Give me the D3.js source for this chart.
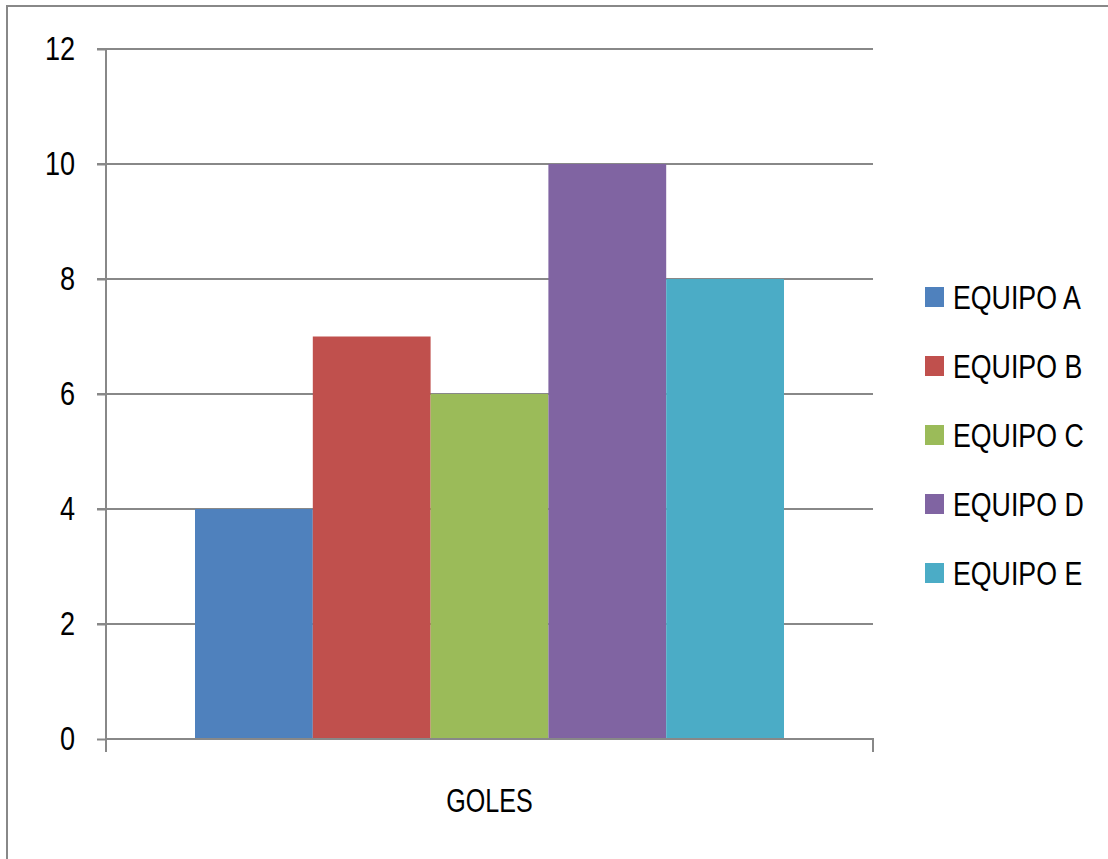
<!DOCTYPE html>
<html>
<head>
<meta charset="utf-8">
<script src="https://cdn.jsdelivr.net/npm/d3@7"></script>
<style>
  body { margin: 0; background: #fff; }
  text { font-family: "Liberation Sans Narrow", "Liberation Sans", Arial, sans-serif; fill: #000; }
</style>
</head>
<body>
<div id="chart"></div>
<script>
var categories = ["GOLES"];
var teams = ["EQUIPO A", "EQUIPO B", "EQUIPO C", "EQUIPO D", "EQUIPO E"];
var goals = [4, 7, 6, 10, 8];
var colors = ["#4f81bd", "#c0504d", "#9bbb59", "#8064a2", "#4bacc6"];
var yTicks = [0, 2, 4, 6, 8, 10, 12];

// the original uses a narrow font, squeeze the wide fallback horizontally
var squeeze = function(sel, k){
  sel.each(function(){
    var w = this.getComputedTextLength();
    d3.select(this).attr("textLength", w * k).attr("lengthAdjust", "spacingAndGlyphs");
  });
};

var svg = d3.select("#chart").append("svg").attr("width", 1108).attr("height", 859);

// outer frame, runs off the right and bottom edges
svg.append("rect").attr("x", 7).attr("y", 6).attr("width", 1120).attr("height", 880)
  .attr("fill", "none").attr("stroke", "#888").attr("stroke-width", 2);

var x = d3.scaleBand().domain(categories).range([106, 873]);
var inner = d3.scaleBand().domain(teams).range([x("GOLES") + 89, x("GOLES") + x.bandwidth() - 89]);
var y = d3.scaleLinear().domain([0, 12]).range([739, 49]);

// gridlines
svg.append("g").selectAll("line").data(yTicks.filter(function(d){ return d > 0; })).enter()
  .append("line")
  .attr("x1", 97).attr("x2", 873)
  .attr("y1", function(d){ return y(d); }).attr("y2", function(d){ return y(d); })
  .attr("stroke", "#888").attr("stroke-width", 2);

// bars
svg.append("g").selectAll("rect").data(goals).enter()
  .append("rect")
  .attr("x", function(d, i){ return inner(teams[i]); })
  .attr("y", function(d){ return y(d); })
  .attr("width", inner.bandwidth())
  .attr("height", function(d){ return y(0) - y(d); })
  .attr("fill", function(d, i){ return colors[i]; });

// y axis
var yAxis = d3.axisLeft(y).tickValues(yTicks).tickSize(9).tickPadding(22).tickFormat(d3.format("d"));
var ya = svg.append("g").attr("transform", "translate(106,0)").call(yAxis);
ya.select(".domain").attr("stroke", "#888").attr("stroke-width", 2).attr("d", "M0," + y(12) + "V" + (y(0) + 13));
ya.selectAll(".tick line").attr("stroke", "#888").attr("stroke-width", 2);
ya.selectAll(".tick text").attr("font-size", 33).attr("font-family", "Liberation Sans, sans-serif").attr("fill", "#000")
  .call(squeeze, 0.82);

// x axis
var xAxis = d3.axisBottom(x).tickSize(0).tickPadding(50);
var xa = svg.append("g").attr("transform", "translate(0," + y(0) + ")").call(xAxis);
xa.select(".domain").attr("stroke", "#888").attr("stroke-width", 2).attr("d", "M106,0H873V13");
xa.selectAll(".tick text").attr("font-size", 33).attr("font-family", "Liberation Sans, sans-serif").attr("fill", "#000")
  .call(squeeze, 0.76);

// legend
var legend = svg.append("g").selectAll("g").data(teams).enter()
  .append("g").attr("transform", function(d, i){ return "translate(925," + (297 + i * 69) + ")"; });
legend.append("rect").attr("x", 0).attr("y", -10).attr("width", 19).attr("height", 20)
  .attr("fill", function(d, i){ return colors[i]; });
legend.append("text").attr("x", 28).attr("y", 12).attr("font-size", 33).text(function(d){ return d; })
  .call(squeeze, 0.81);
</script>
</body>
</html>
